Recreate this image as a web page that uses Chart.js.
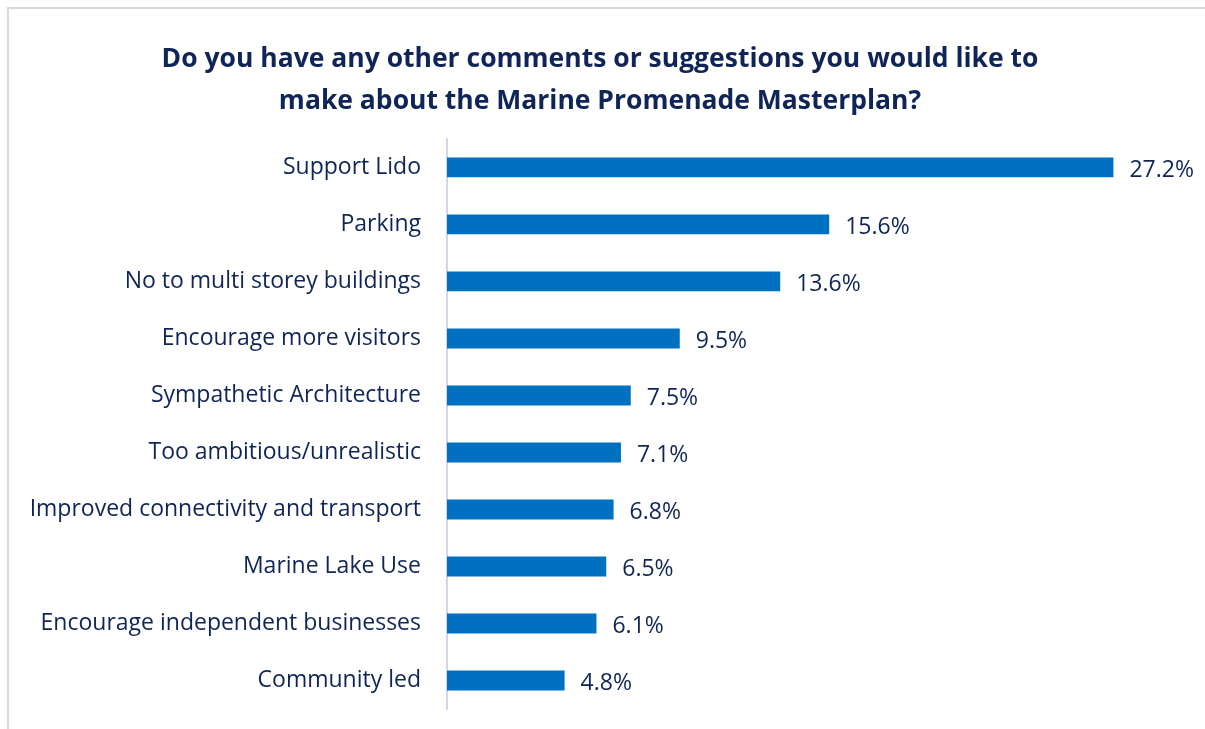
<!DOCTYPE html>
<html>
<head>
<meta charset="utf-8">
<script src="https://cdn.jsdelivr.net/npm/chart.js@4.4.0/dist/chart.umd.min.js"></script>
<style>
  html, body { margin: 0; padding: 0; background: #ffffff; overflow: hidden; }
  #wrap { position: relative; width: 1205px; height: 729px; }
  #frame { position: absolute; left: 7px; top: 7px; width: 1220px; height: 740px; border: 2px solid #d9d9d9; box-sizing: border-box; }
  canvas { position: absolute; left: 0; top: 0; }
</style>
</head>
<body>
<div id="wrap">
  <div id="frame"></div>
  <canvas id="c" width="1205" height="729"></canvas>
</div>
<script>
const titleLines = [
  "Do you have any other comments or suggestions you would like to",
  "make about the Marine Promenade Masterplan?"
];
const categories = [
  "Support Lido",
  "Parking",
  "No to multi storey buildings",
  "Encourage more visitors",
  "Sympathetic Architecture",
  "Too ambitious/unrealistic",
  "Improved connectivity and transport",
  "Marine Lake Use",
  "Encourage independent businesses",
  "Community led"
];
const values = [27.2, 15.6, 13.6, 9.5, 7.5, 7.1, 6.8, 6.5, 6.1, 4.8];

const textColor = "#0f2557";
const barColor = "#0070c0";
const fontFamily = "'Open Sans', sans-serif";

const valueLabels = {
  id: "valueLabels",
  afterDatasetsDraw(chart) {
    const ctx = chart.ctx;
    const meta = chart.getDatasetMeta(0);
    const xScale = chart.scales.x;
    ctx.save();
    ctx.fillStyle = textColor;
    ctx.font = "23px " + fontFamily;
    ctx.textAlign = "left";
    ctx.textBaseline = "middle";
    meta.data.forEach((bar, i) => {
      const x = xScale.getPixelForValue(values[i]);
      ctx.fillText(values[i].toFixed(1) + "%", x + 16, bar.y + 3);
    });
    ctx.restore();
  }
};

new Chart(document.getElementById("c"), {
  type: "bar",
  data: {
    labels: categories,
    datasets: [{
      data: values,
      backgroundColor: barColor,
      borderWidth: 0,
      barPercentage: 0.35,
      categoryPercentage: 1.0
    }]
  },
  options: {
    indexAxis: "y",
    responsive: false,
    animation: false,
    devicePixelRatio: 1,
    layout: { padding: { left: 18, right: 23, top: 0, bottom: 20 } },
    plugins: {
      legend: { display: false },
      tooltip: { enabled: false },
      title: {
        display: true,
        text: titleLines,
        color: textColor,
        font: { family: fontFamily, size: 26.5, weight: "bold", lineHeight: 1.62 },
        padding: { top: 37.5, bottom: 15.5 }
      }
    },
    scales: {
      x: {
        display: false,
        min: 0,
        max: 30
      },
      y: {
        afterFit(scale) {
          scale.width = 429;
          scale.paddingTop = 0;
          scale.paddingBottom = 0;
        },
        grid: { display: false },
        border: { display: true, color: "#d6d4ec", width: 2 },
        ticks: {
          color: textColor,
          padding: 18,
          font: { family: fontFamily, size: 23 }
        }
      }
    }
  },
  plugins: [valueLabels]
});
</script>
</body>
</html>
